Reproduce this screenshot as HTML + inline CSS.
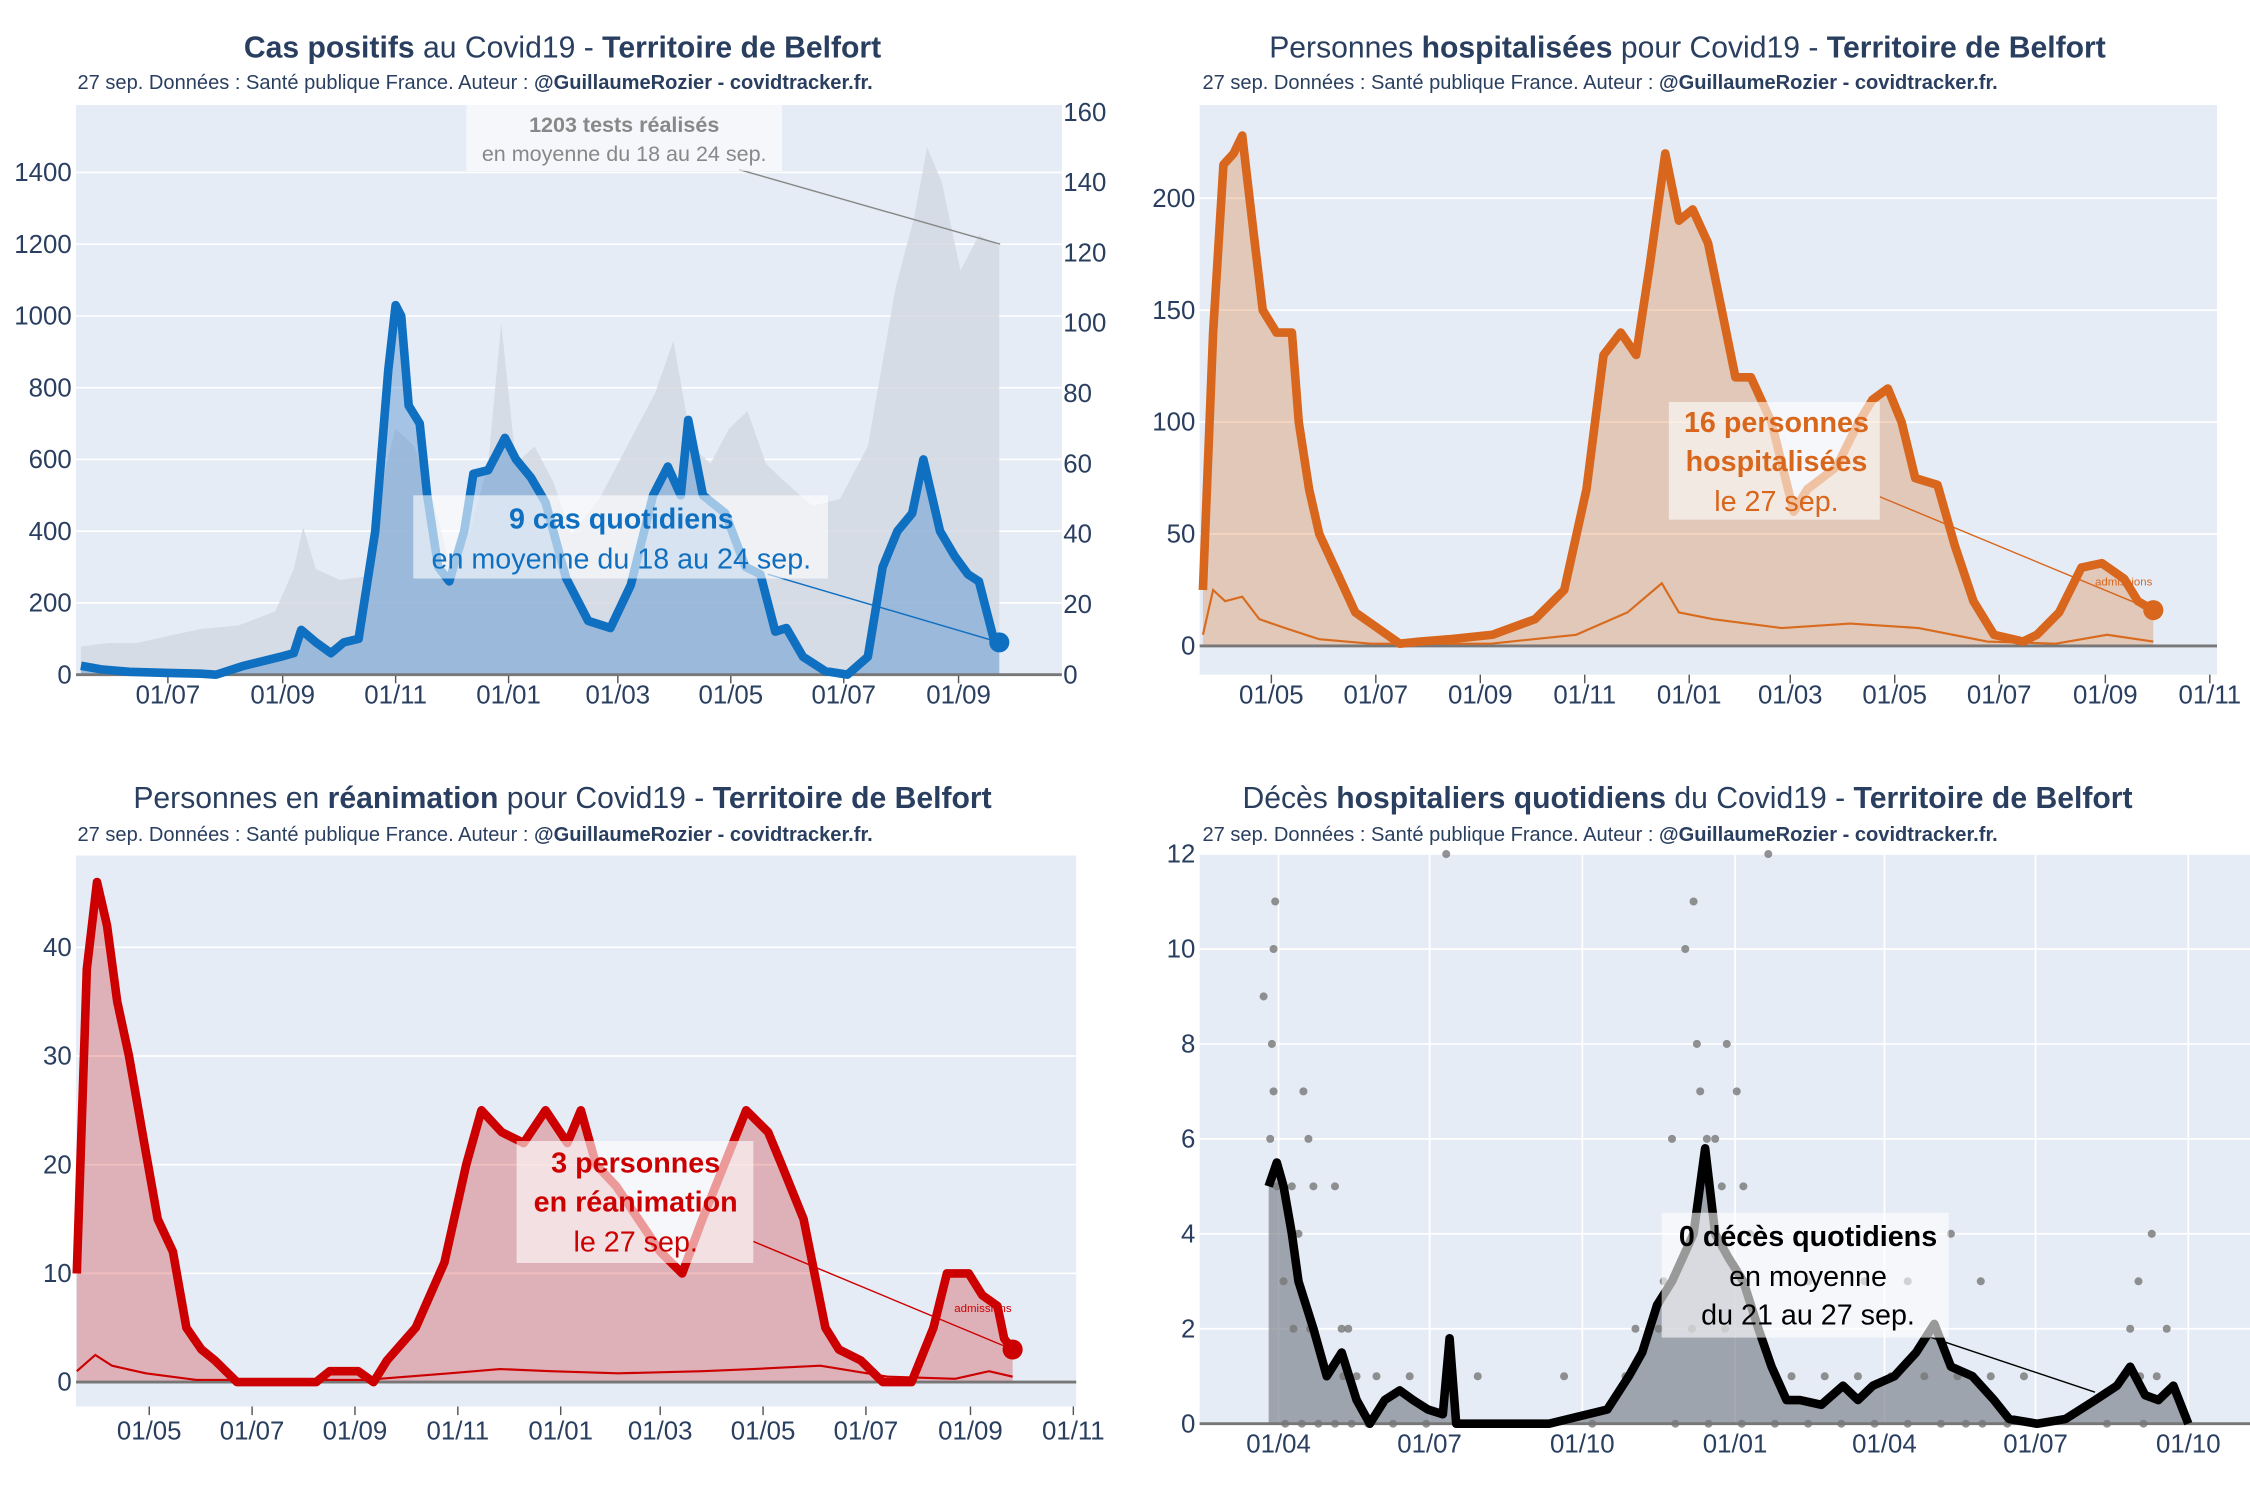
<!DOCTYPE html>
<html><head><meta charset="utf-8"><style>
html,body{margin:0;padding:0;background:#fff;width:2250px;height:1500px;overflow:hidden}
svg{display:block}
text{font-family:"Liberation Sans","DejaVu Sans",sans-serif;fill:#2a3f5f}
</style></head><body>
<svg id="root" width="2250" height="1500" viewBox="0 0 1568 1045" xmlns="http://www.w3.org/2000/svg"></svg>
<script>
// ---------- DATA (day = days since 2020-01-01) ----------
const casDays=[135,146,161,182,200,208,223,243,250,254,262,270,277,285,294,301,305,308,312,318,322,328,334,342,347,355,364,370,378,386,397,409,421,432,444,452,459,463,471,483,494,502,510,516,525,537,549,560,568,576,584,590,599,607,614,620,628,631];
const casValues=[25,15,8,5,3,0,25,50,60,125,90,60,90,100,400,850,1030,1000,750,700,500,300,260,400,560,570,660,600,550,480,270,150,130,250,500,580,500,710,500,450,300,280,120,130,50,10,0,50,300,400,450,600,400,330,280,260,100,90];
const testDays=[135,150,165,182,200,220,240,250,255,262,275,290,300,305,315,325,335,345,355,362,370,380,390,400,415,430,445,455,465,475,485,495,505,515,530,545,560,575,585,592,600,610,620,631];
const testValues=[8,9,9,11,13,14,18,30,42,30,27,28,60,70,65,50,30,40,60,100,60,65,55,40,50,65,80,95,65,60,70,75,60,55,48,50,65,110,130,150,140,115,125,122];
const casLeftTicks=[0,200,400,600,800,1000,1200,1400];
const casRightTicks=[0,20,40,60,80,100,120,140,160];
const casXTickDays=[182,244,305,366,425,486,547,609];
const casXTickLabels=["01/07","01/09","01/11","01/01","01/03","01/05","01/07","01/09"];

const hospDays=[82,88,94,100,105,110,117,125,134,138,144,150,159,171,184,197,209,226,251,276,293,306,316,326,335,343,352,360,368,377,385,393,402,414,427,435,452,465,473,482,490,498,511,521,532,544,561,569,582,595,607,620,628,637];
const hospValues=[25,140,215,220,228,195,150,140,140,100,70,50,35,15,8,1,2,3,5,12,25,70,130,140,130,170,220,190,195,180,150,120,120,100,60,70,80,100,110,115,100,75,72,45,20,5,2,5,15,35,37,30,20,16];
const hospAdmDays=[82,88,95,105,115,130,150,180,250,300,330,350,360,380,420,460,500,540,580,610,637];
const hospAdmValues=[5,25,20,22,12,8,3,1,1,5,15,28,15,12,8,10,8,2,1,5,2];
const hospYTicks=[0,50,100,150,200];
const hospXTickDays=[122,183,244,305,366,425,486,547,609,670];
const hospXTickLabels=["01/05","01/07","01/09","01/11","01/01","01/03","01/05","01/07","01/09","01/11"];

const reaDays=[79,85,91,97,103,110,119,127,136,144,153,161,174,221,229,246,255,263,280,297,310,319,331,344,357,370,378,387,399,412,425,438,450,463,476,489,497,510,523,531,544,557,574,587,595,608,616,625,629,634];
const reaValues=[10,38,46,42,35,30,22,15,12,5,3,2,0,0,1,1,0,2,5,11,20,25,23,22,25,22,25,20,18,15,12,10,15,20,25,23,20,15,5,3,2,0,0,5,10,10,8,7,4,3];
const reaAdmDays=[79,90,100,120,150,250,300,330,360,400,450,480,520,560,600,620,634];
const reaAdmValues=[1,2.5,1.5,0.8,0.2,0.2,0.8,1.2,1,0.8,1,1.2,1.5,0.5,0.3,1,0.5];
const reaYTicks=[0,10,20,30,40];
const reaXTickDays=hospXTickDays;
const reaXTickLabels=hospXTickLabels;

const dcDays=[85,90,94,99,103,112,120,129,138,146,155,164,172,181,190,194,198,254,289,302,310,319,328,341,348,354,362,371,380,388,397,405,418,431,440,449,462,475,486,496,509,522,531,548,565,583,596,604,613,621,630,639];
const dcValues=[5,5.5,5,4,3,2,1,1.5,0.5,0,0.5,0.7,0.5,0.3,0.2,1.8,0,0,0.3,1,1.5,2.5,3,4,5.8,4,3.5,3,2,1.2,0.5,0.5,0.4,0.8,0.5,0.8,1,1.5,2.1,1.2,1,0.5,0.1,0,0.1,0.5,0.8,1.2,0.6,0.5,0.8,0];
const dcDotDays=[82,86,87,88,88,89,90,94,99,103,106,109,112,120,125,129,133,138,192,194,211,263,306,323,328,336,341,343,345,349,354,358,361,367,371,375,386,410,444,470,496,514,604,609,617,626,100,110,120,130,150,170,300,320,340,360,380,400,420,440,460,480,500,520,540,600,610,620,95,105,115,125,135,145,160,180,200,250,280,330,350,370,390,410,430,450,470,490,505,515,530,590,612];
const dcDotValues=[9,6,8,7,10,11,5,3,5,4,7,6,5,1,5,2,2,1,12,1,1,1,2,3,6,10,11,8,7,6,6,5,8,7,5,4,12,3,3,3,4,3,2,3,4,2,2,2,1,1,1,1,1,2,2,2,2,1,1,1,1,1,1,1,1,1,1,1,0,0,0,0,0,0,0,0,0,0,0,0,0,0,0,0,0,0,0,0,0,0,0,0,0];
const dcYTicks=[0,2,4,6,8,10,12];
const dcXTickDays=[91,182,274,366,456,547,639];
const dcXTickLabels=["01/04","01/07","01/10","01/01","01/04","01/07","01/10"];

// ---------- DRAW ----------
const NS="http://www.w3.org/2000/svg";
const root=document.getElementById('root');
function el(tag,attrs,parent,txt){const e=document.createElementNS(NS,tag);for(const k in attrs)e.setAttribute(k,attrs[k]);if(txt!==undefined)e.textContent=txt;(parent||root).appendChild(e);return e;}
function lin(d0,p0,d1,p1){return v=>p0+(v-d0)*(p1-p0)/(d1-d0);}
function pathOf(xs,ys,X,Y){return xs.map((d,i)=>(i?'L':'M')+X(d).toFixed(1)+','+Y(ys[i]).toFixed(1)).join('');}
function areaOf(xs,ys,X,Y,base){return pathOf(xs,ys,X,Y)+'L'+X(xs[xs.length-1]).toFixed(1)+','+base+'L'+X(xs[0]).toFixed(1)+','+base+'Z';}

function titles(g,cx,y,parts){
  const t=el('text',{x:cx,y:y,'text-anchor':'middle','font-size':21},g);
  
  parts.forEach(p=>{el('tspan',{'font-weight':p[1]?'bold':'normal'},t,p[0]);});
}
function subtitle(g,x,y){
  const t=el('text',{x:x,y:y,'font-size':14},g);
  
  el('tspan',{},t,"27 sep. Données : Santé publique France. Auteur : ");
  el('tspan',{'font-weight':'bold'},t,"@GuillaumeRozier - covidtracker.fr.");
}
function annot(g,cx,lines,color,box,lx1,ly1,lx2,ly2,name){
  const a=el('g',{},g);
  el('line',{x1:lx1,y1:ly1,x2:lx2,y2:ly2,stroke:color,'stroke-width':1},a);
  el('rect',{x:box[0],y:box[1],width:box[2],height:box[3],fill:'#fff','fill-opacity':0.6},a);
  lines.forEach(l=>{el('text',{x:cx,y:l[1],'text-anchor':'middle','font-size':l[3]||20,'font-weight':l[2]?'bold':'normal',style:'fill:'+color},a,l[0]);});
}
function frame(g,x0,x1,y0,y1,yTicks,Y,yLabelX,xTickDays,xTickLabels,X,xLabY,vgrid,name){
  const bg=el('rect',{x:x0,y:y0,width:x1-x0,height:y1-y0,fill:'#e5ecf6'},g);
  
  yTicks.forEach(v=>{
    el('line',{x1:x0,x2:x1,y1:Y(v),y2:Y(v),stroke:'#fff','stroke-width':1.2},g);
    const t=el('text',{x:yLabelX,y:Y(v)+6,'text-anchor':'end','font-size':18},g,String(v));
    
  });
  xTickDays.forEach((d,i)=>{
    if(vgrid) el('line',{x1:X(d),x2:X(d),y1:y0,y2:y1,stroke:'#fff','stroke-width':1.2},g);
    else el('line',{x1:X(d),x2:X(d),y1:y1,y2:y1+6,stroke:'#555','stroke-width':1},g);
    const t=el('text',{x:X(d),y:xLabY,'text-anchor':'middle','font-size':18},g,xTickLabels[i]);
    
  });
}

// Panel 1: cases
(function(){
  const g=el('g',{});
  const X=lin(182,117,609,668), Y=lin(0,470,1400,120), YR=lin(0,470,160,78);
  titles(g,392,40,[["Cas positifs",1],[" au Covid19 - ",0],["Territoire de Belfort",1]]);
  subtitle(g,54,62);
  frame(g,53,740,73,470,casLeftTicks,Y,50,casXTickDays,casXTickLabels,X,490,false,'cases');
  casRightTicks.forEach(v=>{const t=el('text',{x:741,y:YR(v)+6,'font-size':18},g,String(v));});
  const ta=el('path',{d:areaOf(testDays,testValues,X,YR,470),fill:'#d3d9e3','fill-opacity':0.85},g);
  
  const ca=el('path',{d:areaOf(casDays,casValues,X,Y,470),fill:'#1f70c1','fill-opacity':0.32},g);
  
  el('line',{x1:53,x2:740,y1:470,y2:470,stroke:'#777','stroke-width':2},g);
  const cl=el('path',{d:pathOf(casDays,casValues,X,Y),fill:'none',stroke:'#0f6fc0','stroke-width':6,'stroke-linejoin':'round'},g);
  
  const n=casDays.length-1;
  el('circle',{cx:X(casDays[n]),cy:Y(casValues[n]),r:7,fill:'#0f6fc0'},g);
  annot(g,435,[["1203 tests réalisés",92,true,15],["en moyenne du 18 au 24 sep.",112,false,15]],'#888',[325,73,220,46],515,118,697,170,'tests-annotation');
  annot(g,433,[["9 cas quotidiens",368,true],["en moyenne du 18 au 24 sep.",396,false]],'#0f6fc0',[288,345,289,58],535,400,X(casDays[n]),Y(casValues[n]),'cases-annotation');
})();

// Panel 2: hospitalisations
(function(){
  const g=el('g',{});
  const X=lin(122,886,670,1540), Y=lin(0,450,200,138);
  titles(g,1176,40,[["Personnes ",0],["hospitalisées",1],[" pour Covid19 - ",0],["Territoire de Belfort",1]]);
  subtitle(g,838,62);
  frame(g,836,1545,73,470,hospYTicks,Y,833,hospXTickDays,hospXTickLabels,X,490,false,'hosp');
  const ha=el('path',{d:areaOf(hospDays,hospValues,X,Y,450),fill:'#d86b1d','fill-opacity':0.28},g);
  
  el('line',{x1:836,x2:1545,y1:450,y2:450,stroke:'#777','stroke-width':2},g);
  const al=el('path',{d:pathOf(hospAdmDays,hospAdmValues,X,Y),fill:'none',stroke:'#d86b1d','stroke-width':1.5},g);
  
  const hl=el('path',{d:pathOf(hospDays,hospValues,X,Y),fill:'none',stroke:'#d8661c','stroke-width':6,'stroke-linejoin':'round'},g);
  
  const n=hospDays.length-1;
  el('circle',{cx:X(hospDays[n]),cy:Y(hospValues[n]),r:7,fill:'#d8661c'},g);
  el('text',{x:1480,y:408,'text-anchor':'middle','font-size':8,style:'fill:#d8661c'},g,"admissions");
  annot(g,1238,[["16 personnes",301,true],["hospitalisées",328,true],["le 27 sep.",356,false]],'#d8661c',[1163,280,147,82],1310,346,X(hospDays[n]),Y(hospValues[n]),'hosp-annotation');
})();

// Panel 3: reanimation
(function(){
  const g=el('g',{});
  const X=lin(122,104,670,748), Y=lin(0,963,40,660);
  titles(g,392,563,[["Personnes en ",0],["réanimation",1],[" pour Covid19 - ",0],["Territoire de Belfort",1]]);
  subtitle(g,54,586);
  frame(g,53,750,596,980,reaYTicks,Y,50,reaXTickDays,reaXTickLabels,X,1003,false,'rea');
  const ra=el('path',{d:areaOf(reaDays,reaValues,X,Y,963),fill:'#cc0000','fill-opacity':0.25},g);
  
  el('line',{x1:53,x2:750,y1:963,y2:963,stroke:'#777','stroke-width':2},g);
  const al=el('path',{d:pathOf(reaAdmDays,reaAdmValues,X,Y),fill:'none',stroke:'#cc0000','stroke-width':1.5},g);
  
  const rl=el('path',{d:pathOf(reaDays,reaValues,X,Y),fill:'none',stroke:'#cc0000','stroke-width':6,'stroke-linejoin':'round'},g);
  
  const n=reaDays.length-1;
  el('circle',{cx:X(reaDays[n]),cy:Y(reaValues[n]),r:7,fill:'#cc0000'},g);
  el('text',{x:685,y:914,'text-anchor':'middle','font-size':8,style:'fill:#cc0000'},g,"admissions");
  annot(g,443,[["3 personnes",817,true],["en réanimation",844,true],["le 27 sep.",872,false]],'#cc0000',[360,795,165,85],525,865,X(reaDays[n]),Y(reaValues[n]),'rea-annotation');
})();

// Panel 4: deaths
(function(){
  const g=el('g',{});
  const X=lin(91,891,639,1525), Y=lin(0,992,12,595);
  titles(g,1176,563,[["Décès ",0],["hospitaliers quotidiens",1],[" du Covid19 - ",0],["Territoire de Belfort",1]]);
  subtitle(g,838,586);
  frame(g,836,1568,595,992,dcYTicks,Y,833,dcXTickDays,dcXTickLabels,X,1012,true,'deaths');
  const da=el('path',{d:areaOf(dcDays,dcValues,X,Y,992),fill:'#7f8690','fill-opacity':0.7},g);
  
  dcDotDays.forEach((d,i)=>{
    const c=el('circle',{cx:X(d),cy:Y(dcDotValues[i]),r:2.8,fill:'#777','fill-opacity':0.8},g);
    
    
  });
  el('line',{x1:836,x2:1568,y1:992,y2:992,stroke:'#777','stroke-width':2},g);
  const dl=el('path',{d:pathOf(dcDays,dcValues,X,Y),fill:'none',stroke:'#000','stroke-width':6,'stroke-linejoin':'round'},g);
  
  annot(g,1260,[["0 décès quotidiens",868,true],["en moyenne",896,false],["du 21 au 27 sep.",923,false]],'#000',[1158,845,200,87],1340,930,1460,970,'deaths-annotation');
})();
</script>
</body></html>
